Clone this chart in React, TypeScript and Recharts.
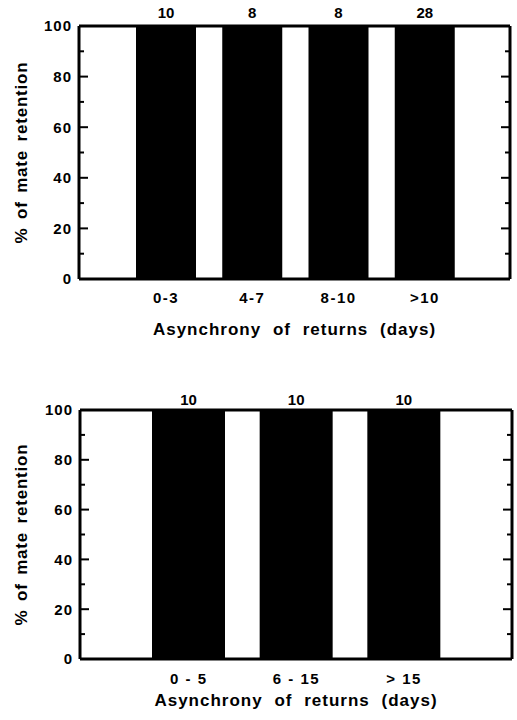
import React from 'react';
import { BarChart, Bar, XAxis, YAxis, CartesianGrid, LabelList } from 'recharts';

const FONT = "'Liberation Sans', Arial, Helvetica, sans-serif";

// ---- data ----
const topCategories = ['0-3', '4-7', '8-10', '>10'];
const topRetention = [100, 100, 100, 100];
const topSampleSizes = [10, 8, 8, 28];

const bottomCategories = ['0 - 5', '6 - 15', '> 15'];
const bottomRetention = [100, 100, 100];
const bottomSampleSizes = [10, 10, 10];

const yTicks = [0, 10, 20, 30, 40, 50, 60, 70, 80, 90, 100];
const xTitle = 'Asynchrony of returns (days)';
const yTitle = '% of mate retention';

const FRAME = { stroke: '#000', strokeWidth: 3 };

const makeYTick = (plotWidth: number) => (props: any) => {
  const { x, y, payload } = props;
  const v = payload.value;
  const major = v % 20 === 0;
  const len = major ? 9 : 5;
  const ax = x + 7;
  const rx = ax + plotWidth;
  return (
    <g>
      <line x1={ax} x2={ax + len} y1={y} y2={y} stroke="#000" strokeWidth={2} />
      <line x1={rx - len} x2={rx} y1={y} y2={y} stroke="#000" strokeWidth={2} />
      {major && (
        <text x={x} y={y} dy="0.36em" textAnchor="end" fill="#000" fontFamily={FONT} fontWeight="bold" fontSize={15} letterSpacing={1}>
          {v}
        </text>
      )}
    </g>
  );
};

const XTick = (props: any) => {
  const { x, y, payload } = props;
  return (
    <text x={x} y={y} dy="0.71em" textAnchor="middle" fill="#000" fontFamily={FONT} fontWeight="bold" fontSize={15} letterSpacing={1.5}>
      {payload.value}
    </text>
  );
};

type PanelCfg = {
  top: number;
  height: number;
  marginTop: number;
  marginRight: number;
  yAxisWidth: number;
  xAxisHeight: number;
  padL: number;
  padR: number;
  barSize: number;
  labelOffset: number;
  tickMargin: number;
  titleOffset: number;
};

const CHART_W = 517;

const Panel = ({ categories, values, counts, cfg }: { categories: string[]; values: number[]; counts: number[]; cfg: PanelCfg }) => {
  const data = categories.map((c, i) => ({ cat: c, value: values[i], n: counts[i] }));
  const plotTop = cfg.marginTop;
  const plotH = cfg.height - cfg.marginTop - cfg.xAxisHeight;
  const plotLeft = cfg.yAxisWidth;
  const plotW = CHART_W - cfg.yAxisWidth - cfg.marginRight;
  const YTick = makeYTick(plotW);

  const YTitle = (p: any) => {
    const vb = p.viewBox || {};
    const cy = vb.y !== undefined ? vb.y + vb.height / 2 : plotTop + plotH / 2;
    const cx = 21;
    return (
      <text x={cx} y={cy} transform={`rotate(-90 ${cx} ${cy})`} textAnchor="middle" dominantBaseline="central" fill="#000" fontFamily={FONT} fontWeight="bold" fontSize={17} letterSpacing={0.8} wordSpacing={3}>
        {yTitle}
      </text>
    );
  };

  const XTitle = (p: any) => {
    const vb = p.viewBox || {};
    const cx = vb.x + vb.width / 2;
    const by = vb.y + vb.height - cfg.titleOffset;
    return (
      <text x={cx} y={by} textAnchor="middle" fill="#000" fontFamily={FONT} fontWeight="bold" fontSize={17} letterSpacing={1} wordSpacing={6}>
        {xTitle}
      </text>
    );
  };

  return (
    <div style={{ position: 'absolute', left: 0, top: cfg.top }}>
      <BarChart width={CHART_W} height={cfg.height} data={data} margin={{ top: cfg.marginTop, right: cfg.marginRight, bottom: 0, left: 0 }}>
        <CartesianGrid
          stroke="#000"
          strokeWidth={3}
          horizontalPoints={[plotTop]}
          verticalPoints={[plotLeft + plotW]}
        />
        <XAxis
          dataKey="cat"
          height={cfg.xAxisHeight}
          padding={{ left: cfg.padL, right: cfg.padR }}
          tickLine={false}
          tickSize={0}
          tickMargin={cfg.tickMargin}
          interval={0}
          axisLine={FRAME}
          tick={<XTick />}
          label={{ content: <XTitle /> }}
        />
        <YAxis
          width={cfg.yAxisWidth}
          domain={[0, 100]}
          ticks={yTicks}
          interval={0}
          tickSize={0}
          tickMargin={7}
          tickLine={false}
          axisLine={FRAME}
          tick={<YTick />}
          label={{ content: <YTitle /> }}
        />
        <Bar dataKey="value" fill="#000" barSize={cfg.barSize} isAnimationActive={false}>
          <LabelList dataKey="n" position="top" offset={cfg.labelOffset} fill="#000" fontFamily={FONT} fontWeight="bold" fontSize={15} />
        </Bar>
      </BarChart>
    </div>
  );
};

const topCfg: PanelCfg = {
  top: 0,
  height: 350,
  marginTop: 26,
  marginRight: 7,
  yAxisWidth: 79,
  xAxisHeight: 71,
  padL: 44,
  padR: 42,
  barSize: 60,
  labelOffset: 8,
  tickMargin: 13,
  titleOffset: 15,
};

const bottomCfg: PanelCfg = {
  top: 360,
  height: 360,
  marginTop: 50,
  marginRight: 5,
  yAxisWidth: 80,
  xAxisHeight: 61,
  padL: 55,
  padR: 54,
  barSize: 73,
  labelOffset: 5,
  tickMargin: 14,
  titleOffset: 14,
};

export default function App() {
  return (
    <div>
      <Panel categories={topCategories} values={topRetention} counts={topSampleSizes} cfg={topCfg} />
      <Panel categories={bottomCategories} values={bottomRetention} counts={bottomSampleSizes} cfg={bottomCfg} />
    </div>
  );
}
